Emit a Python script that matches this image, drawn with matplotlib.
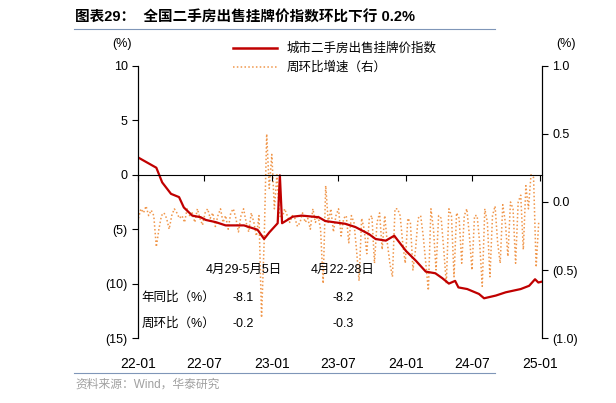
import matplotlib
matplotlib.use("Agg")
import matplotlib.pyplot as plt
import matplotlib.dates as mdates
import pandas as pd
from matplotlib.lines import Line2D

plt.rcParams["font.family"] = ["Liberation Sans", "Noto Sans CJK SC"]

idx_dates = ["2022-01-01","2022-02-20","2022-03-08","2022-04-01","2022-04-23","2022-05-06","2022-05-29",
             "2022-06-21","2022-07-05","2022-08-01","2022-08-28","2022-10-17","2022-11-23","2022-12-11",
             "2022-12-25","2023-01-17","2023-01-23","2023-01-29","2023-02-27","2023-03-24","2023-05-09",
             "2023-05-27","2023-07-20","2023-08-17","2023-09-23","2023-10-11","2023-11-08","2023-12-01",
             "2024-01-02","2024-01-29","2024-02-25","2024-03-22","2024-04-10","2024-04-28","2024-05-15",
             "2024-05-24","2024-06-17","2024-07-19","2024-08-02","2024-09-03","2024-09-30","2024-11-10",
             "2024-12-03","2024-12-19","2024-12-28","2025-01-09"]
idx_values = [1.6,0.65,-0.7,-1.75,-2.05,-3.0,-3.75,-3.9,-4.15,-4.35,-4.65,-4.65,-5.05,-5.9,-5.3,-4.45,
              -0.05,-4.45,-3.85,-3.75,-3.9,-4.25,-4.5,-4.8,-5.45,-5.9,-6.05,-5.6,-7.0,-7.9,-8.9,-9.05,
              -9.5,-10.0,-9.75,-10.35,-10.5,-10.95,-11.35,-11.1,-10.8,-10.5,-10.2,-9.6,-9.9,-9.8]

wow_start = "2022-01-02"
wow_values = [-0.12,-0.05,-0.08,-0.03,-0.1,-0.06,-0.1,-0.33,-0.2,-0.1,-0.08,-0.12,-0.2,-0.1,-0.05,-0.08,
              -0.12,-0.1,-0.15,-0.05,-0.1,-0.08,-0.15,-0.05,-0.12,-0.17,
              -0.08,-0.05,-0.12,-0.08,-0.18,-0.1,-0.05,-0.15,-0.1,-0.2,-0.08,-0.05,-0.12,-0.22,-0.1,-0.05,
              -0.15,-0.22,-0.08,-0.15,-0.25,-0.1,-0.85,-0.3,0.5,0.1,0.35,-0.05,0.2,-0.1,-0.12,
              -0.05,-0.1,-0.15,-0.1,-0.12,-0.18,-0.15,-0.08,-0.15,-0.12,-0.2,-0.05,-0.15,-0.1,-0.2,
              -0.6,0.12,-0.15,-0.05,-0.22,-0.1,-0.05,-0.25,-0.12,-0.1,-0.3,-0.1,-0.15,-0.35,-0.58,
              -0.12,-0.2,-0.38,-0.12,-0.1,-0.45,-0.15,-0.08,-0.35,-0.1,-0.3,-0.45,-0.55,-0.05,-0.05,
              -0.1,-0.3,-0.45,-0.12,-0.15,-0.5,-0.35,-0.12,-0.1,-0.25,-0.45,-0.65,-0.05,-0.2,-0.5,
              -0.1,-0.12,-0.35,-0.6,-0.05,-0.1,-0.55,-0.08,-0.12,-0.45,-0.1,-0.05,-0.25,-0.5,
              -0.1,-0.1,-0.3,-0.62,-0.05,-0.15,-0.55,-0.1,-0.03,-0.3,-0.45,-0.02,-0.15,-0.4,0.0,
              -0.05,-0.45,0.0,0.05,-0.35,0.12,-0.05,0.2,0.18,-0.48,-0.15]

xtick_labels = ["22-01","22-07","23-01","23-07","24-01","24-07","25-01"]
left_ticks = [10, 5, 0, -5, -10, -15]
left_labels = ["10", "5", "0", "(5)", "(10)", "(15)"]
right_ticks = [1.0, 0.5, 0.0, -0.5, -1.0]
right_labels = ["1.0", "0.5", "0.0", "(0.5)", "(1.0)"]
table_cols = ["4月29-5月5日", "4月22-28日"]
table_rows = ["年同比（%）", "周环比（%）"]
table_vals = [["-8.1", "-8.2"], ["-0.2", "-0.3"]]

RED = "#C00000"
ORANGE = "#F0964A"

fig = plt.figure(figsize=(6.16, 4.03), dpi=100)
ax = fig.add_axes([138/616, 1-338/403, (542-138)/616, (338-66)/403])
ax2 = ax.twinx()

wd = pd.date_range(wow_start, periods=len(wow_values), freq="7D")
ax2.plot(wd, wow_values, color=ORANGE, lw=1.1, ls=(0, (1, 1.5)))
ax.plot(pd.to_datetime(idx_dates), idx_values, color=RED, lw=1.6)
ax.set_zorder(ax2.get_zorder() + 1)
ax.patch.set_visible(False)

xlim = (pd.Timestamp("2022-01-01"), pd.Timestamp("2025-01-07"))
ax.set_xlim(*xlim)
ax.set_ylim(-15, 10)
ax2.set_ylim(-1.0, 1.0)
ax.set_yticks(left_ticks, left_labels, fontsize=9)
ax2.set_yticks(right_ticks, right_labels, fontsize=9)
xt = pd.date_range("2022-01-01", periods=7, freq="6MS")
ax.set_xticks(xt, xtick_labels, fontsize=9)
for a in (ax, ax2):
    a.spines["top"].set_visible(False)
ax.spines["bottom"].set_position(("data", 0))
ax2.spines["bottom"].set_visible(False)
ax.tick_params(axis="x", direction="out", length=4, pad=127)
ax.tick_params(axis="y", direction="out", length=4)
ax2.tick_params(axis="y", direction="out", length=4)
ax.text(-0.04, 1.07, "(%)", transform=ax.transAxes, ha="center", fontsize=9)
ax2.text(1.06, 1.07, "(%)", transform=ax.transAxes, ha="center", fontsize=9)

# table annotation
cx = [mdates.date2num(pd.Timestamp(d)) for d in ["2022-10-16", "2023-07-12"]]
for c, t in zip(cx, table_cols):
    ax.text(c, -8.7, t, ha="center", va="center", fontsize=9)
ax.text(mdates.date2num(pd.Timestamp("2022-01-10")), -11.3, table_rows[0], fontsize=9, va="center", ha="left")
ax.text(mdates.date2num(pd.Timestamp("2022-01-10")), -13.7, table_rows[1], fontsize=9, va="center", ha="left")
vx = [mdates.date2num(pd.Timestamp(d)) for d in ["2022-10-16", "2023-07-15"]]
for r, yv in enumerate([-11.3, -13.7]):
    for c in range(2):
        ax.text(vx[c], yv, table_vals[r][c], ha="center", va="center", fontsize=9)

handles = [Line2D([], [], color=RED, lw=1.8), Line2D([], [], color=ORANGE, lw=1.1, ls=(0, (1, 1.5)))]
fig.legend(handles, ["城市二手房出售挂牌价指数", "周环比增速（右）"], loc="upper left",
           bbox_to_anchor=(228/616, 1-38/403), frameon=False, fontsize=9,
           handlelength=3.5, labelspacing=0.5, borderaxespad=0)

fig.text(75/616, 1-18/403, "图表29：  全国二手房出售挂牌价指数环比下行 0.2%", fontsize=10.5,
         fontweight="bold", va="center", ha="left")
fig.add_artist(Line2D([74/616, 495/616], [1-29/403, 1-29/403], color="#7F96B8", lw=0.8))
fig.add_artist(Line2D([74/616, 495/616], [1-373/403, 1-373/403], color="#7F96B8", lw=0.8))
fig.text(75/616, 1-385/403, "资料来源：Wind，华泰研究", fontsize=8.5, color="#A0A0A0", va="center")

fig.savefig("out.png", dpi=100)
